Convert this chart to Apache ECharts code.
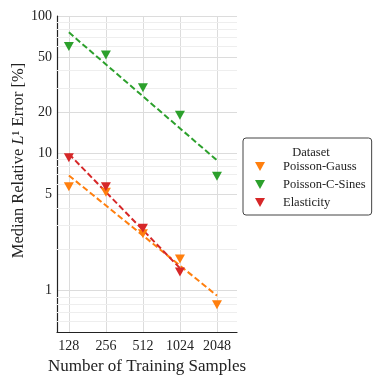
<html>
  <head>
    <meta charset="utf-8" />
    <script src="https://cdn.jsdelivr.net/npm/echarts@6.0.0/dist/echarts.min.js"></script>
    <style>
      body {
        margin: 0;
        background: #ffffff;
      }

      #main {
        width: 380px;
        height: 380px;
      }
    </style>
  </head>
  <body>
    <div id="main"></div>
    <script>
      // training sample counts
      const samples = [128, 256, 512, 1024, 2048];

      // median relative L1 error (%) per dataset
      const poissonGauss = [5.7, 5.2, 2.6, 1.7, 0.79];
      const poissonCSines = [60, 52, 30, 18.9, 6.8];
      const elasticity = [9.3, 5.7, 2.85, 1.37];

      // fitted power-law lines: [x, y] at both ends
      const fitGauss = [[128, 6.9], [2048, 0.92]];
      const fitSines = [[128, 76], [2048, 8.9]];
      const fitElast = [[128, 9.9], [1024, 1.46]];

      const yLabels = [1, 5, 10, 20, 50, 100];
      const yMinor = [0.6, 0.7, 0.8, 0.9, 2, 3, 4, 6, 7, 8, 9, 30, 40, 60, 70, 80, 90];

      const colors = {
        gauss: '#ff7f0e',
        sines: '#2ca02c',
        elast: '#d62728',
      };

      const font = 'Liberation Serif';
      const tri = 'path://M0,0L10,0L5,9Z';

      function pairs(ys) {
        return ys.map((y, i) => [samples[i], y]);
      }

      function scatter(name, ys, color) {
        return {
          name: name,
          type: 'scatter',
          symbol: tri,
          symbolSize: [10, 9],
          itemStyle: { color: color, opacity: 1 },
          data: pairs(ys),
          z: 6,
        };
      }

      function fit(pts, color) {
        return {
          type: 'line',
          data: pts,
          symbol: 'none',
          silent: true,
          lineStyle: { color: color, width: 2, type: [6, 3] },
          z: 4,
        };
      }

      var myChart = echarts.init(document.querySelector('#main'));

      myChart.setOption({
        animation: false,
        textStyle: { fontFamily: font },
        grid: { left: 57, right: 143, top: 16, bottom: 46 },
        title: {
          text: 'Dataset',
          left: 306,
          top: 141,
          textAlign: 'center',
          textStyle: {
            fontFamily: font,
            fontSize: 12.5,
            fontWeight: 'normal',
            color: '#222',
          },
        },
        legend: {
          data: ['Poisson-Gauss', 'Poisson-C-Sines', 'Elasticity'],
          orient: 'vertical',
          left: 243,
          top: 138,
          width: 126,
          padding: [22, 6, 6, 12],
          itemGap: 5,
          itemWidth: 10,
          itemHeight: 10,
          borderColor: '#444',
          borderWidth: 1,
          borderRadius: 3,
          textStyle: {
            fontFamily: font,
            fontSize: 12.5,
            color: '#222',
            padding: [0, 0, 0, 13],
          },
        },
        xAxis: {
          type: 'log',
          logBase: 2,
          min: 102.5,
          max: 2980,
          name: 'Number of Training Samples',
          nameLocation: 'middle',
          nameGap: 26,
          nameTextStyle: { fontFamily: font, fontSize: 17, color: '#222' },
          axisLine: { show: true, lineStyle: { color: '#222', width: 1.2 } },
          axisTick: { show: false, customValues: samples },
          axisLabel: {
            customValues: samples,
            formatter: (v) => String(Math.round(v)),
            fontFamily: font,
            fontSize: 14,
            color: '#222',
            margin: 7,
          },
          splitLine: { show: true, lineStyle: { color: '#dcdcdc', width: 1 } },
        },
        yAxis: {
          type: 'log',
          logBase: 10,
          min: 0.5,
          max: 100,
          name: '{a|Median Relative }{i|L}{a|\u00b9 Error [%]}',
          nameLocation: 'middle',
          nameGap: 30,
          nameTextStyle: {
            padding: [0, 0, 0, 27],
            rich: {
              a: { fontFamily: font, fontSize: 16.5, color: '#222' },
              i: { fontFamily: font, fontSize: 16.5, fontStyle: 'italic', color: '#222' },
            },
          },
          axisLine: { show: true, lineStyle: { color: '#222', width: 1.2 } },
          axisTick: { show: false, customValues: yLabels },
          axisLabel: {
            customValues: yLabels,
            fontFamily: font,
            fontSize: 14,
            color: '#222',
            margin: 5,
          },
          splitLine: { show: true, lineStyle: { color: '#dcdcdc', width: 1 } },
        },
        series: [
          {
            type: 'line',
            data: [],
            silent: true,
            z: 1,
            markLine: {
              silent: true,
              z: 1,
              symbol: 'none',
              label: { show: false },
              lineStyle: { color: '#eeeeee', width: 1, type: 'solid' },
              data: yMinor.map((v) => ({ yAxis: v })),
            },
          },
          fit(fitGauss, colors.gauss),
          fit(fitSines, colors.sines),
          fit(fitElast, colors.elast),
          scatter('Poisson-Gauss', poissonGauss, colors.gauss),
          scatter('Poisson-C-Sines', poissonCSines, colors.sines),
          scatter('Elasticity', elasticity, colors.elast),
        ],
      });
    </script>
  </body>
</html>
